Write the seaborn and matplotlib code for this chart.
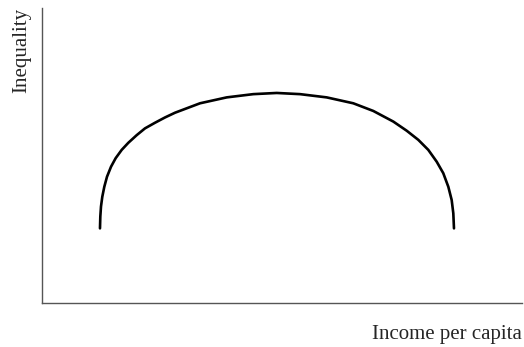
import matplotlib
matplotlib.use('Agg')
import matplotlib.pyplot as plt
import seaborn as sns
import pandas as pd

# Kuznets-style curve (axis units 0-100)
income = [12.08, 12.15, 12.29, 12.56, 12.98, 13.54, 14.38, 15.35, 16.60, 17.98,
          19.73, 21.46, 23.54, 25.63, 27.71, 32.92, 38.48, 44.02, 48.90, 53.75,
          59.31, 64.85, 69.02, 73.19, 75.98, 78.40, 80.48, 82.23, 83.60, 84.65,
          85.35, 85.69, 85.83]
inequality = [25.3, 29.3, 32.7, 36.0, 39.4, 42.8, 46.2, 49.1, 51.9, 54.3,
              56.9, 59.2, 61.1, 62.9, 64.5, 67.7, 69.7, 70.8, 71.2, 70.8,
              69.7, 67.7, 65.1, 61.5, 58.4, 55.3, 51.9, 47.9, 44.0, 39.4,
              34.9, 30.4, 25.3]

df = pd.DataFrame({'income': income, 'inequality': inequality})

sns.set_style('white')
plt.rcParams['font.family'] = ['Liberation Serif', 'DejaVu Serif']

fig = plt.figure(figsize=(5.24, 3.47), dpi=100)
ax = fig.add_axes([42 / 524, 44 / 347, 480 / 524, 295 / 347])

sns.lineplot(data=df, x='income', y='inequality', sort=False, estimator=None,
             color='black', linewidth=1.9, ax=ax)

ax.set_xlim(0, 100)
ax.set_ylim(0, 100)
ax.set_xticks([])
ax.set_yticks([])
for side in ['top', 'right']:
    ax.spines[side].set_visible(False)
for side in ['left', 'bottom']:
    ax.spines[side].set_color('#555555')
    ax.spines[side].set_linewidth(1.0)

ax.set_xlabel('Income per capita', loc='right', fontsize=15, labelpad=16)
ax.set_ylabel('Inequality', loc='top', fontsize=15, labelpad=8)

fig.savefig('out.png', dpi=100)
